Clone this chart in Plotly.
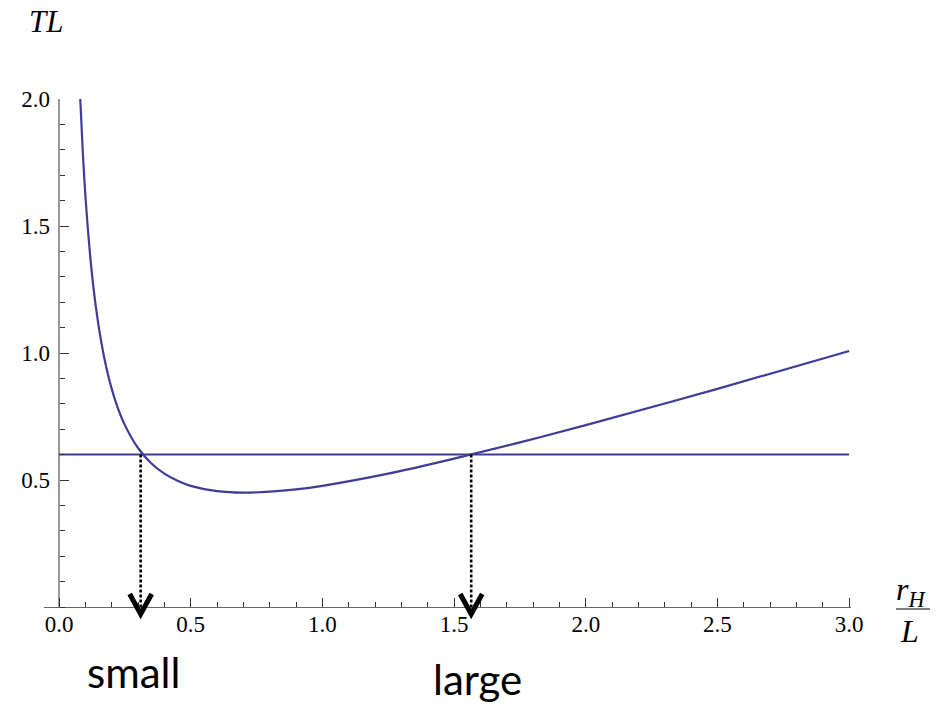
import plotly.graph_objects as go

# ---- data ----
x_vals = [0.07, 0.08, 0.09, 0.10, 0.12, 0.14, 0.16, 0.18, 0.20, 0.22, 0.25, 0.30,
          0.35, 0.40, 0.45, 0.50, 0.60, 0.70, 0.80, 0.90, 1.00, 1.25, 1.50, 1.75,
          2.00, 2.50, 3.00]
tl_vals = [2.296, 2.015, 1.797, 1.623, 1.364, 1.181, 1.046, 0.941, 0.859, 0.793, 0.716, 0.626,
           0.566, 0.525, 0.497, 0.477, 0.456, 0.450, 0.454, 0.463, 0.477, 0.525, 0.584, 0.648,
           0.716, 0.859, 1.008]
level_x = [0.0, 3.0]
level_y = [0.6, 0.6]
cross_x = [0.31, 1.565]
cross_labels = ["small", "large"]
x_tickvals = [0.0, 0.5, 1.0, 1.5, 2.0, 2.5, 3.0]
x_ticktext = ["0.0", "0.5", "1.0", "1.5", "2.0", "2.5", "3.0"]
y_tickvals = [0.5, 1.0, 1.5, 2.0]
y_ticktext = ["0.5", "1.0", "1.5", "2.0"]

X_RANGE = [-0.057, 3.007]
Y_RANGE = [-0.059, 2.0]

OFF = 8  # page body margin
W, H = 941 - OFF, 704 - OFF
ML, MR, MT, MB = 44 - OFF, 90, 99 - OFF, 82
PW, PH = W - ML - MR, H - MT - MB


def px_x(px):
    return (px - OFF - ML) / PW


def px_y(py):
    return (H - MB - (py - OFF)) / PH


CURVE = "#3d3d99"
SERIF = "Liberation Serif"

fig = go.Figure()
fig.add_trace(go.Scatter(x=x_vals, y=tl_vals, mode="lines",
                         line=dict(color=CURVE, width=2.2, shape="spline", smoothing=1.0),
                         hoverinfo="skip"))
fig.add_trace(go.Scatter(x=level_x, y=level_y, mode="lines",
                         line=dict(color=CURVE, width=2), hoverinfo="skip"))
for cx in cross_x:
    fig.add_trace(go.Scatter(x=[cx, cx], y=[level_y[0], 0], mode="lines",
                             line=dict(color="black", width=2.6, dash="3px,2px"),
                             hoverinfo="skip"))
    fig.add_shape(type="path", xref="x", yref="y", xsizemode="pixel", ysizemode="pixel",
                  xanchor=cx, yanchor=0, path="M -11,13 L 0,-7 L 11,13",
                  line=dict(color="black", width=5), layer="above")

# y axis line (stops at the x axis)
fig.add_shape(type="line", xref="x", yref="y", x0=0, x1=0, y0=0, y1=y_tickvals[-1],
              line=dict(color="#333333", width=1), layer="above")

# fraction bar of r_H / L
fig.add_shape(type="line", xref="paper", yref="paper", x0=px_x(896), x1=px_x(930),
              y0=px_y(609), y1=px_y(609), line=dict(color="black", width=1.2))

annotations = [
    dict(text="<i>TL</i>", x=px_x(46), y=px_y(21), xref="paper", yref="paper",
         showarrow=False, xanchor="center", yanchor="middle",
         font=dict(family=SERIF, size=31, color="black")),
    dict(text="<i>r</i><sub><i>H</i></sub>", x=px_x(911), y=px_y(591), xref="paper", yref="paper",
         showarrow=False, xanchor="center", yanchor="middle",
         font=dict(family=SERIF, size=32, color="black")),
    dict(text="<i>L</i>", x=px_x(909), y=px_y(631), xref="paper", yref="paper",
         showarrow=False, xanchor="center", yanchor="middle",
         font=dict(family=SERIF, size=32, color="black")),
]
shifts = [-7, 6]
ypos = [672, 679]
for cx, lab, sh, yp in zip(cross_x, cross_labels, shifts, ypos):
    annotations.append(dict(text=lab, x=cx, xref="x", y=px_y(yp), yref="paper",
                            xshift=sh, showarrow=False, xanchor="center", yanchor="middle",
                            font=dict(family="Lato", size=42, color="black")))

fig.update_layout(
    width=W, height=H, margin=dict(l=ML, r=MR, t=MT, b=MB),
    plot_bgcolor="white", paper_bgcolor="white", showlegend=False,
    annotations=annotations,
    xaxis=dict(range=X_RANGE, tickmode="array", tickvals=x_tickvals, ticktext=x_ticktext,
               ticks="inside", ticklen=9, tickwidth=1, tickcolor="#333333",
               showline=True, linecolor="#666666", linewidth=1.2,
               showgrid=False, zeroline=False, anchor="free",
               position=(0 - Y_RANGE[0]) / (Y_RANGE[1] - Y_RANGE[0]),
               minor=dict(tick0=0, dtick=0.1, ticks="inside", ticklen=5, tickwidth=1,
                          tickcolor="#333333", showgrid=False),
               tickfont=dict(family=SERIF, size=23, color="black"),
               ticklabelstandoff=-4),
    yaxis=dict(range=Y_RANGE, tickmode="array", tickvals=y_tickvals, ticktext=y_ticktext,
               ticks="inside", ticklen=9, tickwidth=1, tickcolor="#333333",
               showline=False, showgrid=False, zeroline=False, anchor="free",
               position=(0 - X_RANGE[0]) / (X_RANGE[1] - X_RANGE[0]),
               minor=dict(tick0=0, dtick=0.1, ticks="inside", ticklen=5, tickwidth=1,
                          tickcolor="#333333", showgrid=False),
               tickfont=dict(family=SERIF, size=23, color="black"),
               ticklabelstandoff=9),
)

fig.write_html("out.html")
